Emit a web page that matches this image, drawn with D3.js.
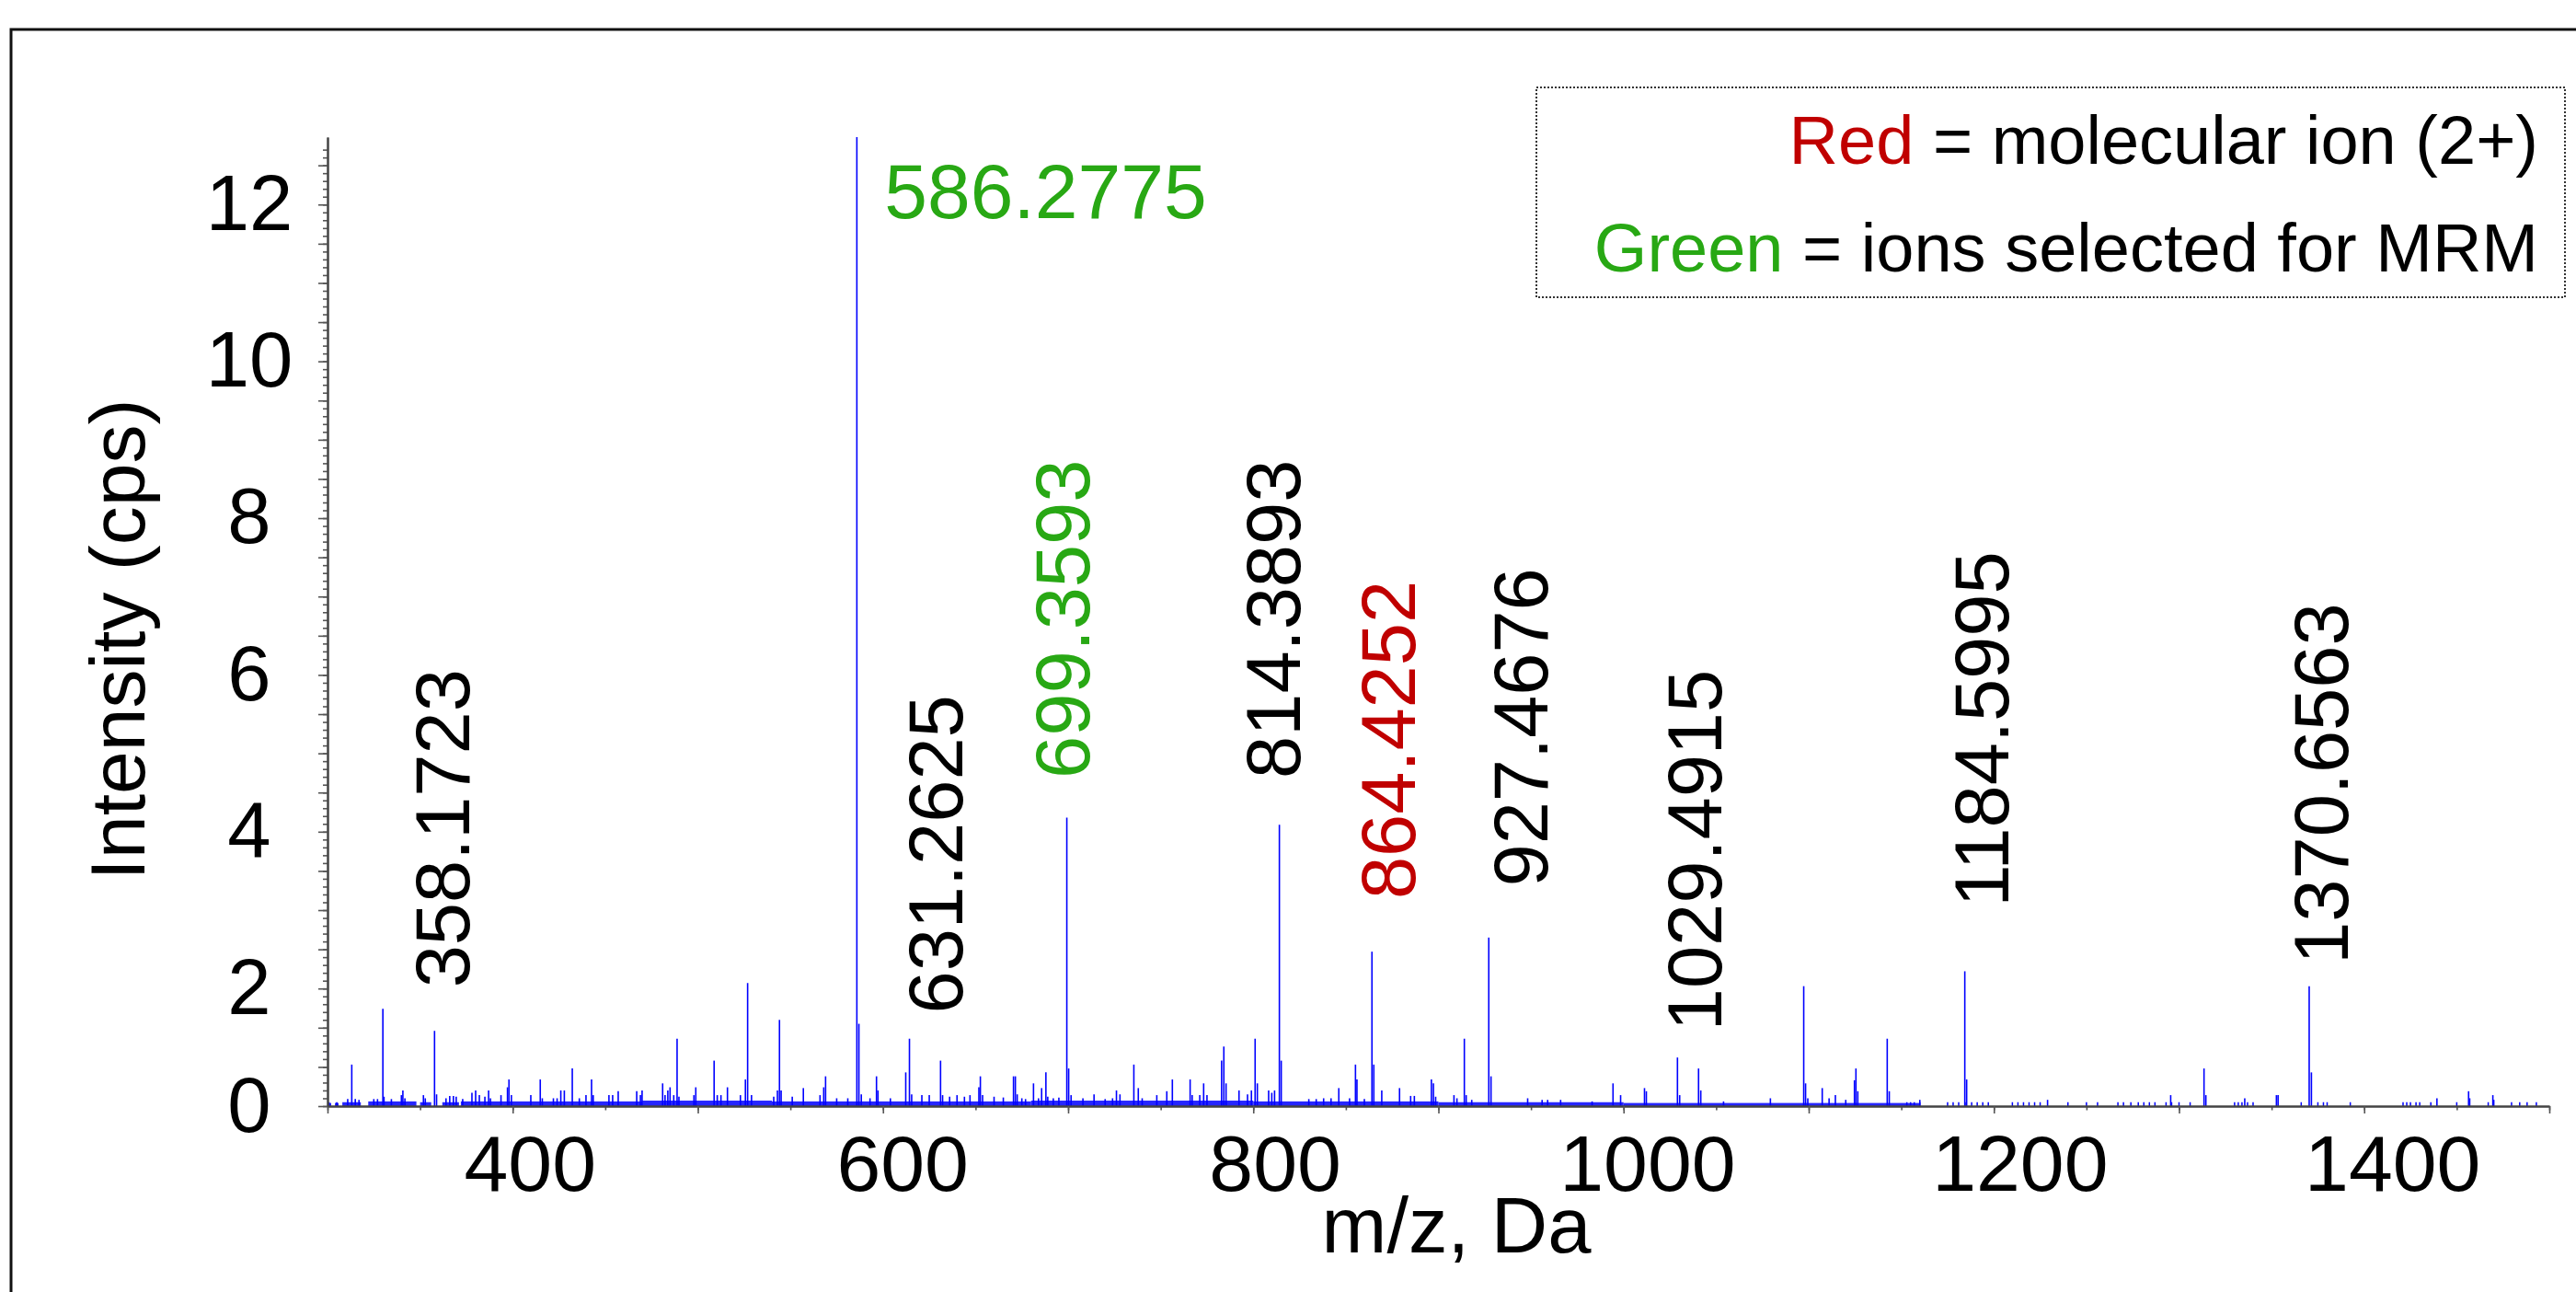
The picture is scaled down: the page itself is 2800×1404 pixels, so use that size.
<!DOCTYPE html>
<html>
<head>
<meta charset="utf-8">
<script src="https://cdnjs.cloudflare.com/ajax/libs/d3/7.8.5/d3.min.js"></script>
<style>
  body { margin: 0; background: #fff; }
  text { font-family: "Liberation Sans", Arial, Helvetica, sans-serif; }
</style>
</head>
<body>
<div id="chart"></div>
<script>

var peaks = [
  [300.8,0.05],[305,0.05],[310.9,0.09],[313.1,0.53],[315,0.09],[317,0.08],[325,0.09],[327,0.09],
  [329.9,1.24],[330.5,0.12],[334.5,0.09],[339.9,0.14],[340.7,0.2],[341.8,0.1],[351.8,0.14],[352.8,0.1],
  [357.8,0.96],[358.9,0.15],[364,0.1],[366,0.13],[368,0.13],[369.5,0.12],[373,0.09],[378,0.17],
  [380,0.2],[382,0.14],[385,0.12],[387,0.2],[388,0.1],[393.7,0.14],[397.2,0.24],[398,0.34],
  [399.3,0.14],[409.8,0.14],[414.9,0.34],[416,0.1],[422,0.1],[424,0.1],[426,0.2],[427.9,0.2],
  [432.2,0.48],[436,0.1],[439.6,0.14],[442.6,0.34],[443.5,0.14],[452,0.14],[454,0.14],[457,0.19],
  [467,0.19],[469,0.14],[469.9,0.2],[481,0.29],[482.3,0.14],[483.8,0.2],[485,0.24],[487,0.14],
  [488.8,0.86],[489.8,0.12],[497.9,0.14],[498.9,0.24],[508.8,0.58],[510.5,0.14],[512.5,0.14],
  [516,0.24],[523,0.14],[525.7,0.34],[526.9,1.57],[529,0.14],
  [541,0.12],[543,0.2],[544.1,1.10],[545,0.2],[551,0.12],[557,0.23],[566,0.14],[568,0.24],
  [569,0.38],[575,0.1],[581,0.1],[585.9,12.36],[587,1.05],[588.3,0.15],[593,0.1],[596.5,0.38],
  [597.3,0.2],[604,0.1],[612.3,0.43],[614.3,0.86],[615.5,0.15],[621,0.14],[625,0.14],[631.1,0.58],
  [632.2,0.14],[636,0.12],[640,0.14],[644,0.12],[647,0.14],[651.8,0.24],[652.6,0.38],[653.8,0.14],
  [660,0.12],[665,0.11],
  [670.5,0.38],[671.5,0.38],[672.5,0.15],[675,0.1],[677,0.09],[681.3,0.29],[684,0.1],[685.7,0.23],
  [688,0.43],[689,0.12],[692,0.1],[695,0.11],[699.3,3.68],[700.3,0.48],[701.6,0.14],[708,0.1],
  [714,0.15],[720,0.09],[724,0.1],[726.1,0.2],[728,0.15],[735.5,0.53],[737.9,0.23],[740,0.1],
  [747.9,0.14],[753.3,0.19],[756.3,0.34],[765.9,0.34],[767,0.14],[771.1,0.14],[773.2,0.29],[775,0.14],
  [782.9,0.58],[784.1,0.76],[785.3,0.29],[792.3,0.2],[796.9,0.15],[799,0.2],[801,0.86],[802.2,0.29],
  [808.3,0.2],[810,0.17],[811.5,0.2],[814.1,3.59],[815.1,0.58],[830,0.09],[834,0.09],[838,0.1],
  [842,0.1],[846.2,0.23],[852,0.1],[855.2,0.53],[856,0.34],[860,0.09],[864.1,1.97],[865.1,0.53],
  [869.4,0.2],[879,0.23],[885,0.13],[887,0.13],[896.2,0.34],[897.3,0.29],[898.5,0.12],[908.4,0.14],
  [910,0.1],[914,0.86],[915,0.14],[918,0.08],[927.2,2.15],[928.4,0.38],[948.2,0.1],[956,0.08],
  [959,0.08],[966,0.08],[983,0.06],[994.3,0.29],[998.4,0.14],[1011.3,0.23],[1012.3,0.19],
  [1029.1,0.62],[1030.3,0.14],[1040.5,0.48],[1041.7,0.2],
  [1054,0.06],[1079.3,0.1],[1097.3,1.53],[1098.3,0.29],[1099.5,0.1],[1107.3,0.23],[1111,0.1],
  [1114.4,0.14],[1120,0.08],[1124.7,0.33],[1125.5,0.48],[1126.5,0.19],[1142.4,0.86],[1143.5,0.19],
  [1160,0.08],[1184.3,1.72],[1185.3,0.34],[1229,0.08],[1295.5,0.14],[1313.5,0.48],[1314.5,0.14],
  [1335.5,0.1],[1352.6,0.14],[1353.5,0.14],[1370.3,1.53],[1371.5,0.43],[1439.3,0.1],[1456.4,0.19],
  [1457,0.1],[1469.5,0.14],[1470,0.08]
];

// baseline "grass" : [from m/z, to m/z, level]
var noiseBands = [
  [300,302,0.04],[304,306,0.04],[308,318,0.05],[322,348,0.06],[350,356,0.05],[362,371,0.05],
  [372,470,0.06],[470,540,0.07],[540,680,0.06],[680,800,0.07],[800,900,0.06],[900,1000,0.05],
  [1000,1160,0.04]
];

// isolated noise sticks in the sparse high-mass end
var noiseSticks = [1153,1155,1157,1160,1175,1178,1181,1185,1188,1191,1194,1197,1210,1213,1216,
  1219,1222,1225,1240,1250,1256,1267,1270,1274,1278,1281,1284,1287,1293,1296,1300,1306,1330,1332,
  1334,1337,1340,1366,1375,1378,1380,1392.5,1421,1423,1425,1428,1430,1436,1450,1467,1479.6,1484,
  1488,1493];
var noiseStickLevel = 0.05;

// peak annotations (rotated), anchored in data units
var labelText  = ["358.1723","631.2625","699.3593","814.3893","864.4252","927.4676","1029.4915","1184.5995","1370.6563"];
var labelMz    = [362, 628, 696.9, 810.5, 872.5, 944.1, 1038, 1192.9, 1376.4];
var labelLevel = [1.51, 1.18, 4.18, 4.18, 2.64, 2.80, 0.96, 2.54, 1.81];
var labelKind  = ["other","other","mrm","other","molecular","other","other","other","other"];

// base peak annotation (horizontal)
var baseText = "586.2775";
var baseMz = 600.8;
var baseLevel = 11.33;
var baseKind = "mrm";

var xTickLabels = [400, 600, 800, 1000, 1200, 1400];
var yTickLabels = [0, 2, 4, 6, 8, 10, 12];

var legendKeys = ["Red", "Green"];
var legendKinds = ["molecular", "mrm"];
var legendRest = [" = molecular ion (2+)", " = ions selected for MRM"];

var kindColor = { other: "#000000", mrm: "#28a814", molecular: "#c00000" };

var W = 2800, H = 1404;
var margin = {top: 149, right: 29, bottom: 202, left: 356};
var width = W - margin.left - margin.right,
    height = H - margin.top - margin.bottom;

var x = d3.scaleLinear().domain([300, 1500]).range([0, width]);
var y = d3.scaleLinear().domain([0, 12.36]).range([height, 0]);

var svg = d3.select("#chart").append("svg")
    .attr("width", W)
    .attr("height", H)
    .style("display", "block");

svg.append("rect")
    .attr("width", W).attr("height", H)
    .attr("fill", "#fff");

// outer frame (runs off the right and bottom edge)
svg.append("rect")
    .attr("x", 12).attr("y", 32)
    .attr("width", W + 20).attr("height", H + 20)
    .attr("fill", "none")
    .attr("stroke", "#111")
    .attr("stroke-width", 3);

var g = svg.append("g")
    .attr("transform", "translate(" + margin.left + "," + margin.top + ")");

var blue = "#0000ff";

g.selectAll(".band")
    .data(noiseBands)
  .enter().append("rect")
    .attr("class", "band")
    .attr("x", d => x(d[0]))
    .attr("width", d => x(d[1]) - x(d[0]))
    .attr("y", d => y(d[2]))
    .attr("height", d => y(0) - y(d[2]))
    .attr("fill", blue)
    .attr("opacity", 0.85);

g.selectAll(".nstick")
    .data(noiseSticks)
  .enter().append("line")
    .attr("class", "nstick")
    .attr("x1", d => x(d)).attr("x2", d => x(d))
    .attr("y1", y(0)).attr("y2", y(noiseStickLevel))
    .attr("stroke", blue)
    .attr("stroke-width", 1.5);

g.selectAll(".peak")
    .data(peaks)
  .enter().append("line")
    .attr("class", "peak")
    .attr("x1", d => x(d[0])).attr("x2", d => x(d[0]))
    .attr("y1", y(0)).attr("y2", d => y(d[1]))
    .attr("stroke", blue)
    .attr("stroke-width", 1.6);

// axes : minor and major ticks, labels placed by hand below
var axisColor = "#444";

function styleAxis(sel) {
  sel.select(".domain").attr("stroke", axisColor).attr("stroke-width", 2);
  sel.selectAll(".tick line").attr("stroke", "#555").attr("stroke-width", 1.6);
}

g.append("g")
    .attr("transform", "translate(0," + height + ")")
    .call(d3.axisBottom(x).tickValues(d3.range(300, 1501, 50)).tickSize(4.5).tickSizeOuter(0).tickFormat(""))
    .call(styleAxis);

g.append("g")
    .attr("transform", "translate(0," + height + ")")
    .call(d3.axisBottom(x).tickValues(d3.range(300, 1501, 100)).tickSize(8).tickSizeOuter(0).tickFormat(""))
    .call(styleAxis);

g.append("g")
    .call(d3.axisLeft(y).tickValues(d3.range(0, 123).map(i => i / 10)).tickSize(5).tickSizeOuter(0).tickFormat(""))
    .call(styleAxis);

g.append("g")
    .call(d3.axisLeft(y).tickValues(d3.range(0, 25).map(i => i / 2)).tickSize(10).tickSizeOuter(0).tickFormat(""))
    .call(styleAxis);

g.selectAll(".ylab")
    .data(yTickLabels)
  .enter().append("text")
    .attr("class", "ylab")
    .attr("x", -85)
    .attr("y", d => y(d) + (d === 0 ? 28 : 70))
    .attr("text-anchor", "middle")
    .style("font-size", "85px")
    .text(d => d);

// the labels sit a little right of their ticks, more so at high mass
g.selectAll(".xlab")
    .data(xTickLabels)
  .enter().append("text")
    .attr("class", "xlab")
    .attr("x", d => x(d) + 19 + (d - 400) * 0.012)
    .attr("y", height + 92)
    .attr("text-anchor", "middle")
    .style("font-size", "86px")
    .text(d => d);

// axis titles
svg.append("text")
    .attr("transform", "translate(157,695) rotate(-90)")
    .attr("text-anchor", "middle")
    .style("font-size", "84px")
    .text("Intensity (cps)");

svg.append("text")
    .attr("x", 1583)
    .attr("y", 1361)
    .attr("text-anchor", "middle")
    .style("font-size", "85px")
    .text("m/z, Da");

// peak annotations
g.selectAll(".plab")
    .data(labelText)
  .enter().append("text")
    .attr("class", "plab")
    .attr("transform", (d, i) => "translate(" + x(labelMz[i]) + "," + y(labelLevel[i]) + ") rotate(-90)")
    .attr("dy", "0.358em")
    .style("font-size", "83px")
    .attr("fill", (d, i) => kindColor[labelKind[i]])
    .text(d => d);

g.append("text")
    .attr("x", x(baseMz))
    .attr("y", y(baseLevel))
    .style("font-size", "84px")
    .attr("fill", kindColor[baseKind])
    .text(baseText);

// legend
svg.append("rect")
    .attr("x", 1670).attr("y", 95)
    .attr("width", 1118).attr("height", 228)
    .attr("fill", "#fff")
    .attr("stroke", "#333")
    .attr("stroke-width", 2)
    .attr("stroke-dasharray", "2,2");

var legend = svg.selectAll(".legend")
    .data(legendKeys)
  .enter().append("text")
    .attr("class", "legend")
    .attr("x", 2759)
    .attr("y", (d, i) => 178 + i * 117)
    .attr("text-anchor", "end")
    .style("font-size", "74px");

legend.append("tspan")
    .attr("fill", (d, i) => kindColor[legendKinds[i]])
    .text(d => d);

legend.append("tspan")
    .attr("fill", "#000")
    .text((d, i) => legendRest[i]);

</script>
</body>
</html>
